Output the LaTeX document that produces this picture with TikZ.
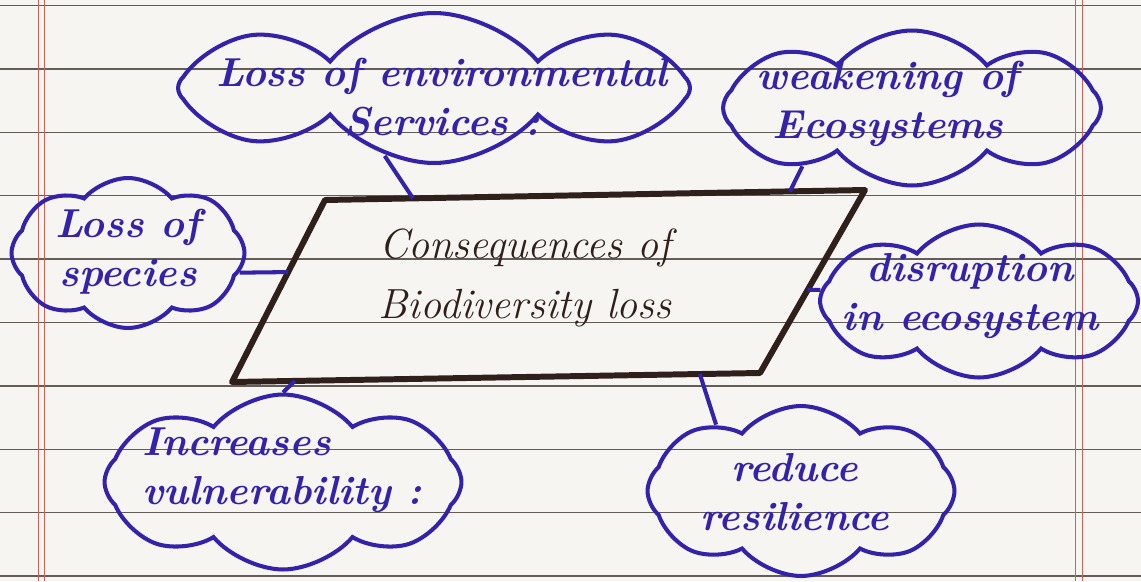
\documentclass[tikz,border=0pt]{standalone}
\usepackage{amsmath, amssymb}
\usepackage{tikz}
\usetikzlibrary{shapes.symbols,calc}

\definecolor{ink}{RGB}{52,34,170}
\definecolor{marker}{RGB}{48,32,28}
\definecolor{paper}{RGB}{246,245,241}
\definecolor{rulegray}{RGB}{100,92,86}
\definecolor{margin}{RGB}{205,95,85}

\tikzset{
  bubble/.style={cloud, cloud puffs=8, cloud puff arc=100, cloud ignores aspect,
    draw=ink, line width=2.3pt, inner sep=0pt},
  note/.style={text=ink, font=\bfseries\itshape\fontsize{23}{28}\selectfont, align=center},
  link/.style={draw=ink, line width=2.3pt},
}

\begin{document}
\begin{tikzpicture}[x=0.02cm,y=-0.02cm]
	\fill[paper] (0,0) rectangle (1141,581);
	\useasboundingbox (0,0) rectangle (1141,581);
	\foreach \k in {0,...,9}        % ruled lines of the page
		\draw[rulegray, line width=0.7pt] (0,5.5+63.4*\k) -- (1141,5.5+63.4*\k);
	\foreach \x in {38,44,1075,1082} % red margins
		\draw[margin, line width=0.5pt] (\x,0) -- (\x,581);

	% the slanted box in the middle
	\coordinate (tl) at (325,200);
	\coordinate (tr) at (865,190);
	\coordinate (br) at (760,373);
	\coordinate (bl) at (232,382);
	\draw[marker, line width=3.4pt, line join=round] (tl) -- (tr) -- (br) -- (bl) -- cycle;
	\node[text=marker, font=\itshape\fontsize{24}{34}\selectfont, align=center] (main) at (525,278)
		{Consequences of\\Biodiversity loss};

	\node[bubble, minimum width=10.24cm, minimum height=3cm] (env) at (434,88) {};
	\node[note] (env-t) at (442,97) {Loss of environmental\\Services :};
	\node[bubble, minimum width=7.56cm, minimum height=3.1cm] (weak) at (912,108) {};
	\node[note] (weak-t) at (888,104) {weakening of\\Ecosystems};
	\node[bubble, minimum width=4.66cm, minimum height=3cm] (species) at (128,253) {};
	\node[note] (species-t) at (128,252) {Loss of\\species};
	\node[bubble, minimum width=6.36cm, minimum height=3.06cm] (disrupt) at (979,301) {};
	\node[note] (disrupt-t) at (970,296) {disruption\\in ecosystem};
	\node[bubble, minimum width=7.14cm, minimum height=3.5cm] (vuln) at (283,482) {};
	\node[note, align=left] (vuln-t) at (282,470) {Increases\\vulnerability :};
	\node[bubble, minimum width=6.14cm, minimum height=3.4cm] (resil) at (801,491) {};
	\node[note] (resil-t) at (795,492) {reduce\\resilience};

	\draw[link] (env.-126) -- ($(tl)!0.163!(tr)$);
	\draw[link] (weak.208) -- ($(tl)!0.861!(tr)$);
	\draw[link] (species.-10) -- ($(tl)!0.396!(bl)$);
	\draw[link] (disrupt.176) -- ($(tr)!0.546!(br)$);
	\draw[link] (vuln.90) -- ($(bl)!0.119!(br)$);
	\draw[link] (resil.142) -- ($(bl)!0.886!(br)$);
\end{tikzpicture}
\end{document}
